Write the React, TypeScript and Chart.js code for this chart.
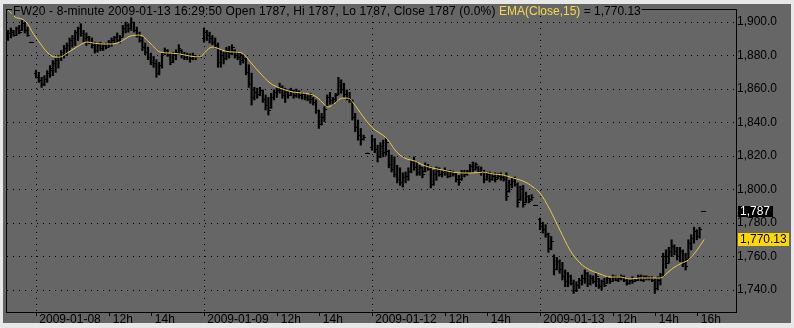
import React, { useEffect, useRef } from 'react';
import { Chart, registerables } from 'chart.js';

Chart.register(...registerables);

type OHLC = [number, number, number, number]; // open, high, low, close

// ---- time layout: 60 eight-minute slots per session, slot 0 = 08:30 ----
const slotsPerDay = 60;
const settleSlot = 58.4;
const jan07FirstSlot = 50;

const dayLabels = ['2009-01-08', '2009-01-09', '2009-01-12', '2009-01-13'];

// tail of 2009-01-07 (slots 50..57)
const jan07Bars: OHLC[] = [
  [1891, 1895, 1889, 1893], [1893, 1896.5, 1890.5, 1895], [1894, 1895, 1891.5, 1892], [1892, 1897, 1892, 1896],
  [1896, 1898, 1893, 1894], [1895, 1901, 1895, 1899], [1899, 1900, 1893.5, 1895], [1895, 1897, 1891.5, 1892],
];
const jan07Settle = 1888;

const jan08Bars: OHLC[] = [
  [1869, 1871.3, 1866.6, 1867], [1867, 1870, 1864, 1865], [1865, 1867, 1861, 1863], [1863, 1868, 1862, 1866],
  [1866, 1871, 1864, 1869], [1869, 1874, 1867, 1872], [1871, 1877, 1868, 1875], [1875, 1878.5, 1870, 1877],
  [1877, 1880, 1872.5, 1879], [1879, 1883, 1877, 1882], [1882, 1886, 1878.5, 1884], [1884, 1887.5, 1880, 1886],
  [1886, 1890.5, 1883, 1889], [1889, 1892, 1885, 1890], [1890, 1895, 1886, 1894], [1894, 1897, 1889, 1896],
  [1896, 1899, 1891.5, 1893], [1893, 1895, 1888, 1890], [1890, 1893.5, 1886, 1891], [1891, 1891.5, 1887, 1888],
  [1888, 1890.5, 1884.5, 1886], [1886, 1888, 1881.5, 1883], [1883, 1887.5, 1882, 1886], [1886, 1888, 1883, 1884],
  [1884, 1887, 1883, 1886], [1886, 1887.5, 1884, 1885], [1885, 1889, 1885, 1888], [1888, 1890.5, 1885.5, 1889],
  [1889, 1891.5, 1887.5, 1891], [1891, 1893.5, 1888, 1889], [1889, 1892, 1887.5, 1891], [1891, 1898, 1891, 1896],
  [1896, 1900, 1893.5, 1898], [1898, 1899, 1894, 1896], [1896, 1902.5, 1895, 1900], [1900, 1900, 1894, 1895],
  [1895, 1897, 1891, 1892], [1892, 1894, 1888, 1889], [1889, 1891, 1883, 1885], [1885, 1887.5, 1880.5, 1882],
  [1882, 1885, 1877.5, 1879], [1879, 1881.5, 1874.5, 1876], [1876, 1879.5, 1873, 1875], [1875, 1877.5, 1867, 1869],
  [1869, 1876, 1868.5, 1874], [1874, 1881.5, 1872.5, 1881], [1881, 1884.5, 1880.5, 1883], [1883, 1883.5, 1879.5, 1880],
  [1880, 1881.5, 1874.5, 1876], [1876, 1882, 1876, 1880], [1880, 1883.5, 1877.5, 1882], [1882, 1886.5, 1880.5, 1884],
  [1883, 1883.5, 1878.5, 1880], [1880, 1882, 1877.5, 1879], [1879, 1881.5, 1877.5, 1880], [1880, 1881, 1876, 1878],
  [1878, 1881.5, 1877.5, 1880], [1880, 1880, 1877.5, 1879],
];

const jan09Bars: OHLC[] = [
  [1890, 1896.5, 1888, 1894], [1894, 1895, 1889, 1892], [1892, 1894, 1887.5, 1890], [1890, 1892, 1886.5, 1888],
  [1888, 1890.5, 1884.5, 1886], [1886, 1887.5, 1873, 1876], [1876, 1883.5, 1873, 1880], [1880, 1882, 1875, 1878],
  [1878, 1885, 1877.5, 1883], [1883, 1885.5, 1878.5, 1881], [1881, 1886.5, 1880.5, 1885], [1883, 1883.5, 1878.5, 1880],
  [1880, 1882, 1877.5, 1879], [1879, 1881.5, 1874.5, 1877], [1877, 1880.5, 1875.5, 1878], [1878, 1878.5, 1868.5, 1870],
  [1870, 1874.5, 1861, 1863], [1863, 1869.5, 1850.5, 1855], [1855, 1861, 1853.5, 1858], [1858, 1860.5, 1854.5, 1857],
  [1857, 1861, 1856, 1859], [1859, 1859.5, 1852, 1854], [1854, 1856.5, 1847.5, 1850], [1850, 1855, 1844.5, 1847],
  [1849, 1857.5, 1848.5, 1855], [1855, 1859.5, 1853.5, 1858], [1858, 1860.5, 1855, 1859], [1859, 1863.5, 1857.5, 1861],
  [1861, 1862, 1854.5, 1856], [1856, 1860.5, 1852, 1858], [1858, 1859.5, 1854.5, 1856], [1856, 1860.5, 1856, 1859],
  [1859, 1859.5, 1854.5, 1856], [1856, 1860, 1855, 1858], [1858, 1859, 1854.5, 1856], [1856, 1858, 1854, 1857],
  [1857, 1857.5, 1853.5, 1855], [1855, 1856.5, 1853, 1854], [1854, 1857.5, 1851.5, 1856], [1854, 1855, 1850.5, 1852],
  [1852, 1853.5, 1845.5, 1847], [1847, 1847.5, 1836.5, 1839], [1839, 1845.5, 1838.5, 1843], [1843, 1849.5, 1840.5, 1848],
  [1850, 1856.5, 1849.5, 1855], [1855, 1858, 1851, 1853], [1853, 1855, 1850.5, 1854], [1854, 1857.5, 1852, 1856],
  [1857, 1867, 1856.5, 1864], [1864, 1865.5, 1857.5, 1860], [1860, 1863.5, 1855, 1857], [1857, 1859.5, 1853.5, 1855],
  [1855, 1858, 1852, 1853], [1853, 1853.5, 1841.5, 1843], [1843, 1845.5, 1834.5, 1837], [1837, 1841.5, 1829.5, 1832],
  [1832, 1836.5, 1826.5, 1830], [1830, 1832.5, 1829.5, 1831],
];

const jan12Bars: OHLC[] = [
  [1825, 1832.5, 1823.5, 1830], [1830, 1830.5, 1822, 1824], [1824, 1826.5, 1816.5, 1820], [1820, 1828, 1819, 1826],
  [1826, 1829.5, 1819.5, 1822], [1822, 1830.5, 1820.5, 1828], [1823, 1823.5, 1813, 1815], [1815, 1820.5, 1810.5, 1812],
  [1812, 1819.5, 1807.5, 1809], [1809, 1814.5, 1804, 1806], [1806, 1813, 1802.5, 1804], [1804, 1810, 1801.5, 1807],
  [1807, 1810.5, 1804, 1808], [1808, 1813, 1805.5, 1811], [1811, 1817.5, 1810, 1816], [1816, 1819.5, 1811.5, 1813],
  [1813, 1816.5, 1808.5, 1810], [1810, 1814.5, 1808.5, 1813], [1813, 1813.5, 1807, 1809], [1811, 1816, 1810.5, 1814],
  [1814, 1815, 1811.5, 1812], [1812, 1813.5, 1801, 1803], [1803, 1811.5, 1802.5, 1809], [1809, 1813.5, 1805.5, 1811],
  [1811, 1813, 1808, 1809], [1809, 1811.5, 1807.5, 1810], [1810, 1813, 1808.5, 1811], [1811, 1811.5, 1807, 1808],
  [1808, 1811.5, 1807.5, 1810], [1810, 1811, 1808, 1809], [1809, 1810, 1804.5, 1806], [1806, 1808.5, 1802.5, 1804],
  [1806, 1811.5, 1805.5, 1810], [1810, 1811.5, 1807.5, 1809], [1809, 1811.5, 1808.5, 1811], [1811, 1815, 1810, 1814],
  [1814, 1816.5, 1810.5, 1812], [1812, 1816, 1811.5, 1815], [1813, 1814, 1810, 1811], [1811, 1813.5, 1808.5, 1810],
  [1810, 1811.5, 1804, 1806], [1806, 1810.5, 1805.5, 1809], [1809, 1810.5, 1804.5, 1806], [1806, 1809.5, 1805.5, 1808],
  [1808, 1810, 1804.5, 1806], [1807, 1809.5, 1806.5, 1808], [1808, 1810, 1805.5, 1807], [1807, 1808.5, 1805, 1806],
  [1806, 1810, 1793.5, 1796], [1799, 1805.5, 1798.5, 1803], [1803, 1807, 1801, 1805], [1805, 1807.5, 1802, 1803],
  [1803, 1804, 1789.5, 1792], [1794, 1802, 1793.5, 1800], [1800, 1802.5, 1789.5, 1791], [1792, 1798.5, 1792, 1796],
  [1796, 1796.5, 1792, 1793], [1794, 1797, 1793.5, 1795],
];

const jan13Bars: OHLC[] = [
  [1782, 1783, 1776, 1778], [1778, 1780.5, 1774, 1776], [1776, 1779, 1771.5, 1773], [1773, 1774, 1762.5, 1765],
  [1765, 1772, 1764, 1769], [1760, 1761, 1749, 1752], [1752, 1759.5, 1752, 1757], [1757, 1758, 1750, 1752],
  [1752, 1756.5, 1746, 1748], [1748, 1752, 1742, 1745], [1745, 1750.5, 1742, 1748], [1748, 1749, 1743, 1744],
  [1744, 1746, 1738, 1740], [1740, 1745, 1739, 1743], [1743, 1747, 1741, 1746], [1746, 1749, 1743, 1747],
  [1747, 1752, 1744, 1750], [1750, 1750.5, 1742, 1744], [1744, 1749, 1743, 1747], [1747, 1748.5, 1744, 1745],
  [1745, 1750, 1742, 1748], [1747, 1747, 1741, 1742], [1742, 1746, 1740, 1745], [1745, 1747, 1742, 1743],
  [1744, 1748, 1744, 1747], [1747, 1747, 1744, 1745], [1745, 1749, 1745, 1748], [1748, 1748.5, 1745.5, 1746],
  [1746, 1748, 1745, 1747], [1747, 1749, 1746, 1748], [1748, 1748.5, 1745, 1746], [1746, 1747, 1743, 1744],
  [1744, 1746.5, 1743.5, 1746], [1746, 1748, 1744, 1745], [1745, 1747, 1745, 1746], [1746, 1749, 1746, 1748],
  [1748, 1749, 1745.5, 1746], [1746, 1748.5, 1745, 1748], [1748, 1748.5, 1746, 1747], [1747, 1748, 1746, 1747],
  [1747, 1748, 1745, 1746], [1746, 1747, 1738, 1741], [1741, 1748, 1740, 1746], [1746, 1750, 1743, 1749],
  [1749, 1762, 1748, 1760], [1760, 1764, 1753, 1756], [1756, 1765.5, 1756, 1763], [1763, 1770, 1760, 1766],
  [1766, 1767, 1761, 1763], [1763, 1765.5, 1758, 1760], [1760, 1765.5, 1757, 1763], [1763, 1764, 1754, 1756],
  [1756, 1762, 1752, 1754], [1758, 1770, 1758, 1768], [1768, 1773, 1764, 1771], [1771, 1777.5, 1768, 1775],
  [1775, 1776, 1770, 1772], [1772, 1777.5, 1771, 1776],
];

// flat settlement bars at the end of each session
const daySettles = [1878.8, 1821.8, 1790.7, 1787];

// EMA(Close,15): [slot position, value]
const emaPoints: [number, number][] = [
  [-10.7, 1908.4], [-8.2, 1904.2], [-7.5, 1903.0], [-5, 1901.8], [-3.2, 1899.4], [-1.1, 1893.4],
  [1.4, 1887.5], [3.9, 1882.1], [6.8, 1879.1], [8.6, 1879.1], [11.1, 1881.5], [14.6, 1885.1],
  [18.2, 1888.1], [20.4, 1887.5], [23.9, 1886.9], [27.1, 1886.9], [30, 1888.1], [33.6, 1891.6],
  [37.1, 1892.2], [40.7, 1887.5], [44.3, 1882.1], [47.9, 1881.5], [51.4, 1880.9], [55, 1879.7],
  [58.6, 1879.1], [60.4, 1882.1], [62.9, 1885.1], [64.6, 1884.5], [67.5, 1882.7], [70.4, 1882.1],
  [73.6, 1881.5], [75.4, 1878.5], [77.5, 1874.3], [80, 1869.6], [83.6, 1863.6], [87.1, 1860.6],
  [91.8, 1858.2], [95.4, 1857.6], [98.9, 1856.4], [100.7, 1854.6], [102.5, 1851.6], [104.3, 1849.3],
  [106.8, 1851.6], [109.3, 1854.6], [111.4, 1854.6], [113.9, 1850.4], [116.4, 1844.5], [118.6, 1839.7],
  [121.1, 1835.5], [123.9, 1832.5], [125.7, 1829.6], [128.2, 1823.6], [130, 1820.6], [132.5, 1818.2],
  [135.4, 1817.0], [138.2, 1814.6], [141.8, 1812.8], [145.4, 1811.6], [148.9, 1810.4], [152.5, 1809.9],
  [156.1, 1809.9], [159.6, 1810.4], [163.2, 1809.3], [166.8, 1808.7], [170.4, 1806.9], [172.9, 1805.7],
  [175.4, 1803.9], [177.5, 1801.5], [180, 1797.9], [183.6, 1787.8], [187.1, 1775.8], [190.7, 1763.9],
  [194.3, 1756.1], [197.9, 1751.9], [201.4, 1749.6], [205, 1747.8], [208.6, 1747.8], [212.1, 1746.6],
  [215.7, 1747.2], [219.3, 1747.2], [222.9, 1747.2], [225.4, 1750.1], [227.5, 1753.1], [230.7, 1756.1],
  [232.9, 1757.9], [236.1, 1763.9], [238.6, 1770.13],
];

const xTickValues = [0, 26.25, 41.25, 60, 86.25, 101.25, 120, 146.25, 161.25, 180, 206.25, 221.25, 236.25];
const xTickLabels = ['2009-01-08', '12h', '14h', '2009-01-09', '12h', '14h', '2009-01-12', '12h', '14h', '2009-01-13', '12h', '14h', '16h'];
const yTickValues = [1740, 1760, 1780, 1800, 1820, 1840, 1860, 1880, 1900];

const xMin = -10.36;
const xMax = 250;
const yMin = 1726.9;
const yMax = 1907.2;

const titleMain = 'FW20 - 8-minute 2009-01-13 16:29:50 Open 1787, Hi 1787, Lo 1787, Close 1787 (0.0%) ';
const titleEma = 'EMA(Close,15)';
const titleEmaValue = ' = 1,770.13';
const lastClose = 1787;
const lastEma = 1770.13;

const FONT = "'Liberation Sans', Arial, sans-serif";

function buildRecords() {
  const recs: { x: number; b: OHLC }[] = [];
  jan07Bars.forEach((b, i) => recs.push({ x: -slotsPerDay + jan07FirstSlot + i, b }));
  recs.push({ x: -slotsPerDay + settleSlot, b: [jan07Settle, jan07Settle, jan07Settle, jan07Settle] });
  [jan08Bars, jan09Bars, jan12Bars, jan13Bars].forEach((bars, d) => {
    bars.forEach((b, i) => recs.push({ x: d * slotsPerDay + i, b }));
    const s = daySettles[d];
    recs.push({ x: d * slotsPerDay + settleSlot, b: [s, s, s, s] });
  });
  return recs;
}

export default function App() {
  const ref = useRef<HTMLCanvasElement | null>(null);

  useEffect(() => {
    document.body.style.margin = '0';
    const canvas = ref.current;
    if (!canvas) return;

    const mkTick = (left: boolean) => {
      const c = document.createElement('canvas');
      c.width = 5;
      c.height = 1;
      const g = c.getContext('2d')!;
      g.fillStyle = '#000';
      g.fillRect(left ? 0 : 2, 0, 3, 1);
      return c;
    };
    const openImg = mkTick(true);
    const closeImg = mkTick(false);

    const recs = buildRecords();

    const framePlugin = {
      id: 'frame',
      beforeDraw(chart: any) {
        const ctx = chart.ctx;
        ctx.save();
        ctx.fillStyle = '#e8e8e8';
        ctx.fillRect(0, 0, chart.width, chart.height);
        ctx.fillStyle = '#666666';
        ctx.fillRect(3, 4, 788, 319);
        ctx.restore();
        ctx.imageSmoothingEnabled = false;
      },
      afterDraw(chart: any) {
        const ctx = chart.ctx;
        const a = chart.chartArea;
        ctx.save();
        ctx.setLineDash([]);
        ctx.strokeStyle = '#000';
        ctx.lineWidth = 1;
        ctx.strokeRect(Math.round(a.left) - 0.5, Math.round(a.top) - 0.5, Math.round(a.right - a.left) + 1, Math.round(a.bottom - a.top) + 1);

        // title
        ctx.font = `12px ${FONT}`;
        ctx.textBaseline = 'alphabetic';
        const tx = 13;
        const mainTarget = 486;
        const mw = ctx.measureText(titleMain).width;
        const ls = (mainTarget - mw) / titleMain.length;
        const emaX = tx + mainTarget;
        const emaW = ctx.measureText(titleEma).width;
        const valW = ctx.measureText(titleEmaValue).width;
        ctx.fillStyle = '#666666';
        ctx.fillRect(12, 5, emaX + emaW + valW - 12 + 1, 11);
        ctx.fillStyle = '#000';
        (ctx as any).letterSpacing = `${ls}px`;
        ctx.fillText(titleMain, tx, 15);
        (ctx as any).letterSpacing = '0px';
        ctx.fillStyle = '#f6d84a';
        ctx.fillText(titleEma, emaX, 15);
        ctx.fillStyle = '#000';
        ctx.fillText(titleEmaValue, emaX + emaW, 15);

        // price boxes
        const ys = chart.scales.y;
        const bx = Math.round(a.right) + 2;
        const closeTxt = lastClose.toLocaleString('en-US');
        const emaTxt = lastEma.toLocaleString('en-US', { minimumFractionDigits: 2 });
        ctx.textBaseline = 'middle';
        const yc = ys.getPixelForValue(lastClose);
        const cw = ctx.measureText(closeTxt).width;
        ctx.fillStyle = '#000';
        ctx.fillRect(bx, Math.round(yc - 5.5), Math.ceil(cw) + 4, 11);
        ctx.fillStyle = '#fff';
        ctx.fillText(closeTxt, bx + 2, yc + 0.5);
        const ye = ys.getPixelForValue(lastEma);
        const ew = ctx.measureText(emaTxt).width;
        ctx.fillStyle = '#ffd800';
        ctx.fillRect(bx, Math.round(ye - 6.5), Math.ceil(ew) + 4, 13);
        ctx.fillStyle = '#000';
        ctx.fillText(emaTxt, bx + 2, ye + 0.5);
        ctx.restore();
      },
    };

    const chart = new Chart(canvas, {
      type: 'bar',
      data: {
        datasets: [
          {
            type: 'line',
            order: 0,
            data: emaPoints.map(([x, y]) => ({ x, y })),
            borderColor: '#e6c94a',
            borderWidth: 1,
            pointRadius: 0,
            tension: 0.4,
            cubicInterpolationMode: 'monotone',
            fill: false,
          } as any,
          {
            type: 'scatter',
            order: 1,
            data: recs.map((r) => ({ x: r.x, y: r.b[0] })),
            pointStyle: openImg,
            pointRadius: 1,
            showLine: false,
          } as any,
          {
            type: 'scatter',
            order: 1,
            data: recs.map((r) => ({ x: r.x, y: r.b[3] })),
            pointStyle: closeImg,
            pointRadius: 1,
            showLine: false,
          } as any,
          {
            type: 'bar',
            order: 2,
            data: recs.map((r) => ({ x: r.x, y: [r.b[2], r.b[1]] })),
            backgroundColor: '#000',
            borderWidth: 0,
            barThickness: 1.5,
          } as any,
        ],
      },
      options: {
        animation: false,
        responsive: false,
        events: [],
        layout: { padding: { left: 7, top: 10, right: 0, bottom: 0 } },
        plugins: { legend: { display: false }, tooltip: { enabled: false }, title: { display: false } },
        scales: {
          x: {
            type: 'linear',
            min: xMin,
            max: xMax,
            offset: false,
            afterFit: (s: any) => { s.height = 16; },
            afterBuildTicks: (s: any) => { s.ticks = xTickValues.map((v) => ({ value: v })); },
            grid: {
              offset: false,
              color: (c: any) => (c.tick && xTickLabels[xTickValues.indexOf(c.tick.value)]?.startsWith('2009') ? '#000' : 'rgba(0,0,0,0)'),
              lineWidth: 1,
              drawTicks: true,
              tickLength: 4,
              tickColor: '#000',
              tickWidth: 1,
              tickBorderDash: [],
            },
            border: { display: false, dash: [1, 5] },
            ticks: {
              autoSkip: false,
              maxRotation: 0,
              minRotation: 0,
              align: 'start',
              padding: -4,
              color: '#000',
              font: { family: FONT, size: 12 },
              callback: (v: any) => {
                const i = xTickValues.indexOf(Number(v));
                return i >= 0 ? ' ' + xTickLabels[i] : '';
              },
            },
          } as any,
          y: {
            type: 'linear',
            position: 'right',
            min: yMin,
            max: yMax,
            beginAtZero: false,
            afterFit: (s: any) => { s.width = 58; },
            afterBuildTicks: (s: any) => { s.ticks = yTickValues.map((v) => ({ value: v })); },
            grid: { color: '#000', lineWidth: 1, drawTicks: false },
            border: { display: false, dash: [1, 5] },
            ticks: {
              padding: 1,
              color: '#000',
              font: { family: FONT, size: 12 },
              callback: (v: any) => Number(v).toLocaleString('en-US', { minimumFractionDigits: 1, maximumFractionDigits: 1 }),
            },
          } as any,
        },
      } as any,
      plugins: [framePlugin],
    });

    return () => chart.destroy();
  }, []);

  return (
    <div style={{ width: 794, height: 328 }}>
      <canvas ref={ref} width={794} height={328} style={{ display: 'block' }} />
    </div>
  );
}
